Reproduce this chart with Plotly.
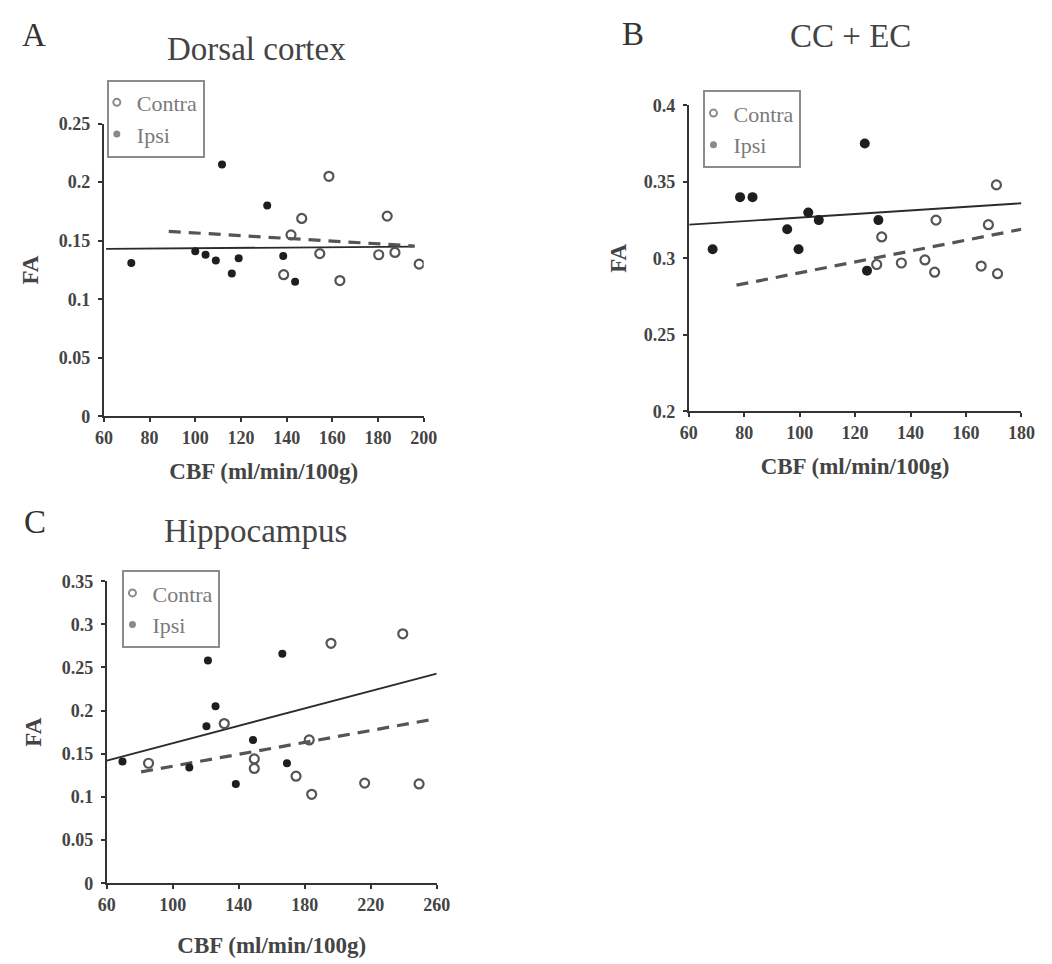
import plotly.graph_objects as go

W, H = 1052, 964
FONT = "Liberation Serif"

# ---------------- data ----------------
# Panel A: Dorsal cortex
a_ipsi_x = [72, 100, 104.5, 109, 111.7, 116, 119, 131.5, 138.5, 143.7]
a_ipsi_y = [0.131, 0.141, 0.138, 0.133, 0.215, 0.122, 0.135, 0.180, 0.137, 0.115]
a_contra_x = [138.7, 141.9, 146.6, 154.5, 158.5, 163.3, 180.3, 184, 187.4, 198]
a_contra_y = [0.121, 0.155, 0.169, 0.139, 0.205, 0.116, 0.138, 0.171, 0.140, 0.130]
a_fit_solid_x = [61, 196]
a_fit_solid_y = [0.143, 0.145]
a_fit_dash_x = [88.4, 196]
a_fit_dash_y = [0.158, 0.1455]

# Panel B: CC + EC
b_ipsi_x = [68.6, 78.5, 83.0, 95.5, 99.6, 103.1, 106.9, 123.5, 124.3, 128.4]
b_ipsi_y = [0.306, 0.340, 0.340, 0.319, 0.306, 0.330, 0.325, 0.375, 0.292, 0.325]
b_contra_x = [127.8, 129.6, 136.7, 145.2, 148.7, 149.2, 165.5, 168.1, 171.0, 171.4]
b_contra_y = [0.296, 0.314, 0.297, 0.299, 0.291, 0.325, 0.295, 0.322, 0.348, 0.290]
b_fit_solid_x = [60.2, 180]
b_fit_solid_y = [0.322, 0.336]
b_fit_dash_x = [77.2, 180]
b_fit_dash_y = [0.2825, 0.319]

# Panel C: Hippocampus
c_ipsi_x = [69.5, 110, 120.4, 121.3, 125.9, 138.2, 148.6, 166.4, 169.2]
c_ipsi_y = [0.141, 0.134, 0.182, 0.258, 0.205, 0.115, 0.166, 0.266, 0.139]
c_contra_x = [85.3, 131.2, 149.4, 149.4, 174.7, 182.7, 184.2, 195.9, 216.3, 239.4, 249.3]
c_contra_y = [0.139, 0.185, 0.144, 0.133, 0.124, 0.166, 0.103, 0.278, 0.116, 0.289, 0.115]
c_fit_solid_x = [60, 260]
c_fit_solid_y = [0.142, 0.243]
c_fit_dash_x = [80.8, 257.8]
c_fit_dash_y = [0.129, 0.190]

# tick labels
a_xticks = [60, 80, 100, 120, 140, 160, 180, 200]
a_yticks = [0, 0.05, 0.1, 0.15, 0.2, 0.25]
a_yticktext = ["0", "0.05", "0.1", "0.15", "0.2", "0.25"]
b_xticks = [60, 80, 100, 120, 140, 160, 180]
b_yticks = [0.2, 0.25, 0.3, 0.35, 0.4]
b_yticktext = ["0.2", "0.25", "0.3", "0.35", "0.4"]
c_xticks = [60, 100, 140, 180, 220, 260]
c_yticks = [0, 0.05, 0.1, 0.15, 0.2, 0.25, 0.3, 0.35]
c_yticktext = ["0", "0.05", "0.1", "0.15", "0.2", "0.25", "0.3", "0.35"]

titles = ["Dorsal cortex", "CC + EC", "Hippocampus"]
letters = ["A", "B", "C"]
series_names = ["Contra", "Ipsi"]
xlabel = "CBF (ml/min/100g)"
ylabel = "FA"

# ---------------- styling ----------------
AXC = "#333333"
IPSI_C = "#1e1e1e"
CONTRA_C = "#555555"
LEG_C = "#8a8a8a"

def px_x(p):
    return p / W

def px_y(p):
    return 1 - p / H

fig = go.Figure()

panels = [
    dict(ax="", xd=[97, 424], yd=[415, 116], xr=[60, 200], yr=[0, 0.25],
         xt=a_xticks, yt=a_yticks, ytt=a_yticktext,
         ix=a_ipsi_x, iy=a_ipsi_y, cx=a_contra_x, cy=a_contra_y,
         sx=a_fit_solid_x, sy=a_fit_solid_y, dx=a_fit_dash_x, dy=a_fit_dash_y,
         isize=8, csize=9, leg="legend", legpos=(100, 71), ystand=14, xstand=16),
    dict(ax="2", xd=[695, 1035], yd=[410, 97.3], xr=[60, 180], yr=[0.2, 0.4],
         xt=b_xticks, yt=b_yticks, ytt=b_yticktext,
         ix=b_ipsi_x, iy=b_ipsi_y, cx=b_contra_x, cy=b_contra_y,
         sx=b_fit_solid_x, sy=b_fit_solid_y, dx=b_fit_dash_x, dy=b_fit_dash_y,
         isize=10, csize=9, leg="legend2", legpos=(710, 82), ystand=11, xstand=16),
    dict(ax="3", xd=[100, 437.3], yd=[891.7, 583.3], xr=[60, 260], yr=[0, 0.35],
         xt=c_xticks, yt=c_yticks, ytt=c_yticktext,
         ix=c_ipsi_x, iy=c_ipsi_y, cx=c_contra_x, cy=c_contra_y,
         sx=c_fit_solid_x, sy=c_fit_solid_y, dx=c_fit_dash_x, dy=c_fit_dash_y,
         isize=8, csize=9, leg="legend3", legpos=(116, 572), ystand=14, xstand=23),
]

layout_axes = {}
for p in panels:
    xa, ya = "x" + p["ax"], "y" + p["ax"]
    # fit lines
    fig.add_trace(go.Scatter(x=p["sx"], y=p["sy"], mode="lines", xaxis=xa, yaxis=ya,
                             line=dict(color="#2b2b2b", width=1.8), showlegend=False,
                             hoverinfo="skip"))
    fig.add_trace(go.Scatter(x=p["dx"], y=p["dy"], mode="lines", xaxis=xa, yaxis=ya,
                             line=dict(color="#555555", width=3.2, dash="12px,8px"),
                             showlegend=False, hoverinfo="skip"))
    # data points
    fig.add_trace(go.Scatter(x=p["ix"], y=p["iy"], mode="markers", xaxis=xa, yaxis=ya,
                             name="Ipsi", showlegend=False,
                             marker=dict(symbol="circle", size=p["isize"], color=IPSI_C,
                                         line=dict(width=0))))
    fig.add_trace(go.Scatter(x=p["cx"], y=p["cy"], mode="markers", xaxis=xa, yaxis=ya,
                             name="Contra", showlegend=False,
                             marker=dict(symbol="circle-open", size=p["csize"],
                                         color=CONTRA_C, line=dict(width=2.2, color=CONTRA_C))))
    # legend entries
    fig.add_trace(go.Scatter(x=[None], y=[None], mode="markers", xaxis=xa, yaxis=ya,
                             name=series_names[0], legend=p["leg"],
                             marker=dict(symbol="circle-open", size=7, color=LEG_C,
                                         line=dict(width=2, color=LEG_C))))
    fig.add_trace(go.Scatter(x=[None], y=[None], mode="markers", xaxis=xa, yaxis=ya,
                             name=series_names[1], legend=p["leg"],
                             marker=dict(symbol="circle", size=7, color=LEG_C)))

    common = dict(showline=True, linecolor=AXC, linewidth=2, showgrid=False,
                  zeroline=False, ticks="outside", ticklen=4, tickwidth=1.5,
                  tickcolor=AXC,
                  tickfont=dict(family=FONT, size=18, color="#444444", weight="bold"))
    layout_axes["xaxis" + p["ax"]] = dict(
        common, domain=[px_x(p["xd"][0]), px_x(p["xd"][1])], range=p["xr"],
        tickmode="array", tickvals=p["xt"], ticktext=[str(v) for v in p["xt"]],
        anchor=ya,
        title=dict(text=xlabel, standoff=p["xstand"],
                   font=dict(family=FONT, size=23, color="#444444", weight="bold")))
    layout_axes["yaxis" + p["ax"]] = dict(
        common, domain=[px_y(p["yd"][0]), px_y(p["yd"][1])], range=p["yr"],
        tickmode="array", tickvals=p["yt"], ticktext=p["ytt"],
        anchor=xa, ticklabelstandoff=4,
        title=dict(text=ylabel, standoff=p["ystand"],
                   font=dict(family=FONT, size=23, color="#444444", weight="bold")))
    layout_axes[p["leg"]] = dict(
        x=px_x(p["legpos"][0]), y=px_y(p["legpos"][1]), xanchor="left", yanchor="top",
        bordercolor="#8c8c8c", borderwidth=2, bgcolor="white",
        font=dict(family=FONT, size=22, color="#7a7a7a"),
        itemwidth=30, tracegroupgap=0, indentation=-12)

annotations = []
title_pos = [(253, 40), (860, 27), (252, 532)]
letter_pos = [(26, 26), (638, 25), (27, 523)]
for t, (tx, ty) in zip(titles, title_pos):
    annotations.append(dict(text=t, x=px_x(tx), y=px_y(ty), xref="paper", yref="paper",
                            xanchor="center", yanchor="middle", showarrow=False,
                            font=dict(family=FONT, size=33, color="#444444")))
for t, (tx, ty) in zip(letters, letter_pos):
    annotations.append(dict(text=t, x=px_x(tx), y=px_y(ty), xref="paper", yref="paper",
                            xanchor="center", yanchor="middle", showarrow=False,
                            font=dict(family=FONT, size=33, color="#333333")))

fig.update_layout(
    width=W, height=H, margin=dict(l=0, r=0, t=0, b=0),
    paper_bgcolor="white", plot_bgcolor="white",
    font=dict(family=FONT, color="#444444"),
    annotations=annotations,
    **layout_axes,
)

fig.write_html("out.html")
